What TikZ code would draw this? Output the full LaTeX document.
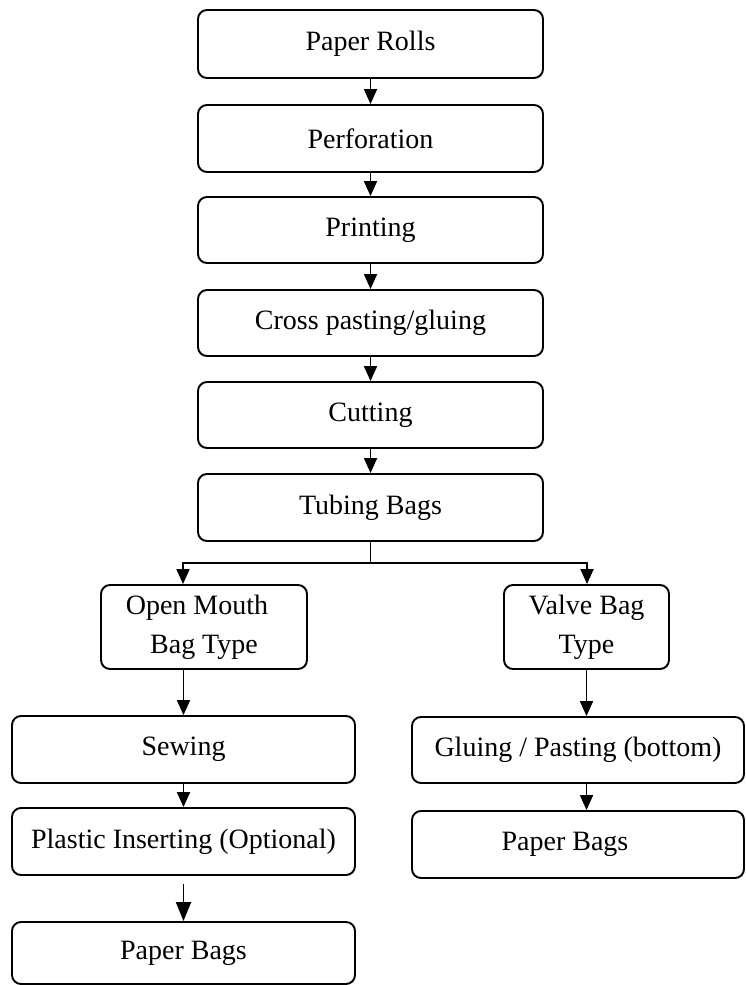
\documentclass[tikz,border=0pt]{standalone}
\usepackage{fontspec}
\setmainfont{Liberation Serif}
\usetikzlibrary{arrows.meta}
\begin{document}
\begin{tikzpicture}[x=1pt,y=-1pt,
  box/.style={draw, line width=1.9pt, rounded corners=9pt, align=center,
    font=\fontsize{28}{39}\selectfont, inner sep=0pt},
  arr/.style={line width=1.9pt, -{Triangle[length=15pt,width=13pt]}}]
\path[use as bounding box] (0,0) rectangle (746,985);
% main column
\node[box, minimum width=345pt, minimum height=68pt] (rolls) at (370.5,44) {Paper Rolls};
\node[box, minimum width=345pt, minimum height=67pt] (perf) at (370.5,138.5) {Perforation};
\node[box, minimum width=345pt, minimum height=66pt] (print) at (370.5,230) {Printing};
\node[box, minimum width=345pt, minimum height=66pt] (cross) at (370.5,323) {Cross pasting/gluing};
\node[box, minimum width=345pt, minimum height=66pt] (cut) at (370.5,415) {Cutting};
\node[box, minimum width=345pt, minimum height=67pt] (tub) at (370.5,507.5) {Tubing Bags};
% branches
\node[box, minimum width=206pt, minimum height=84pt] (open) at (204,627) {\hspace*{-14pt}Open Mouth\\Bag Type};
\node[box, minimum width=165pt, minimum height=84pt] (valve) at (586.5,627) {Valve Bag\\Type};
% left column
\node[box, minimum width=343pt, minimum height=67pt] (sew) at (183.5,749.5) {Sewing};
\node[box, minimum width=343pt, minimum height=67pt] (plast) at (183.5,841.5) {Plastic Inserting (Optional)};
\node[box, minimum width=343pt, minimum height=62pt] (bagsl) at (183.5,953) {Paper Bags};
% right column
\node[box, minimum width=332pt, minimum height=66pt] (glue) at (578,750) {Gluing / Pasting (bottom)};
\node[box, minimum width=332pt, minimum height=67pt] (bagsr) at (578,844.5) {\hspace*{-26pt}Paper Bags};
% connectors
\draw[arr] (rolls) -- (perf);
\draw[arr] (perf) -- (print);
\draw[arr] (print) -- (cross);
\draw[arr] (cross) -- (cut);
\draw[arr] (cut) -- (tub);
\coordinate (jl) at (183,563);
\coordinate (jr) at (587,563);
\draw[line width=1.9pt] (tub.south) -- (tub.south |- jl);
\draw[arr] (tub.south |- jl) -- (jl) -- (jl |- open.north);
\draw[arr] (tub.south |- jr) -- (jr) -- (jr |- valve.north);
\draw[arr] (sew.north |- open.south) -- (sew.north);
\draw[arr] (sew) -- (plast);
\draw[line width=1.9pt, -{Triangle[length=19pt,width=15pt]}, shorten <=8pt] (plast) -- (bagsl);
\draw[arr] (valve.south) -- (valve.south |- glue.north);
\draw[arr] (valve.south |- glue.south) -- (valve.south |- bagsr.north);
\end{tikzpicture}
\end{document}
